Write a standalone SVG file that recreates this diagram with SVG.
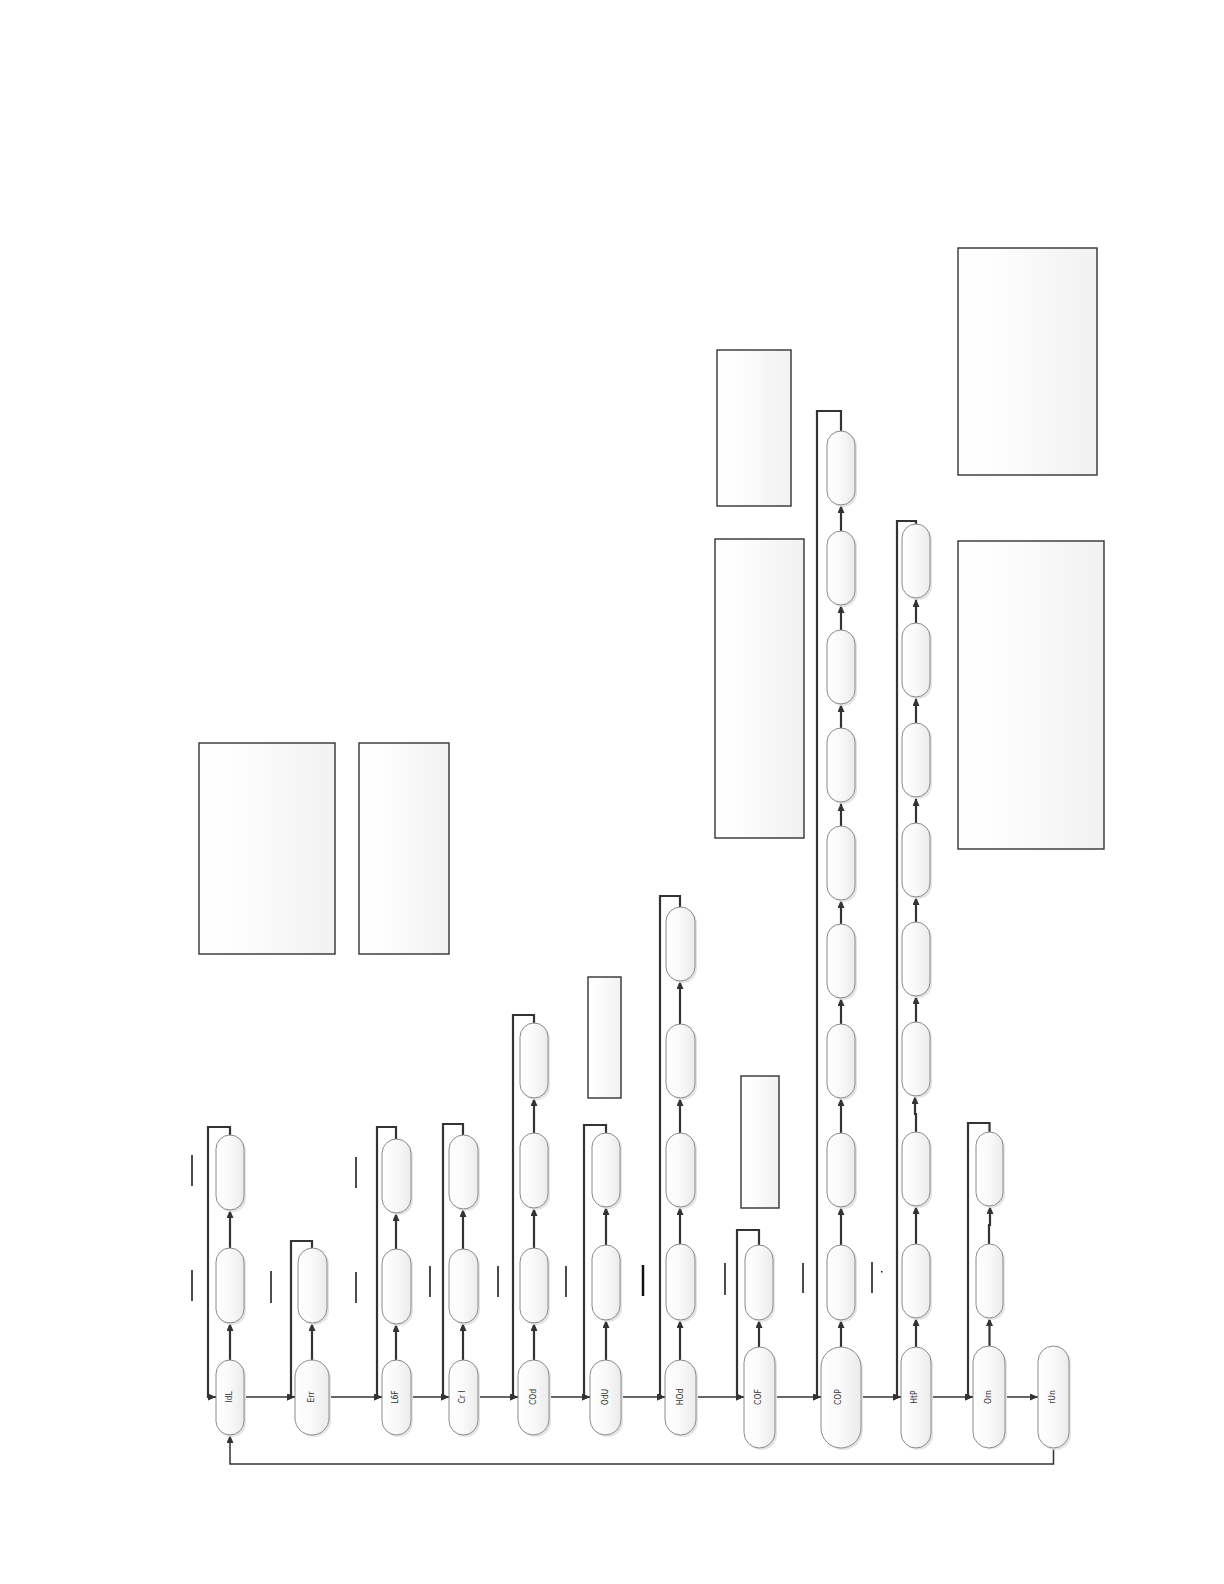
<svg xmlns="http://www.w3.org/2000/svg" width="1224" height="1584" viewBox="0 0 1224 1584">
<defs>
<linearGradient id="ng" x1="0" y1="0" x2="1" y2="0">
<stop offset="0" stop-color="#ffffff"/><stop offset="0.5" stop-color="#f9f9f9"/><stop offset="1" stop-color="#ebebeb"/>
</linearGradient>
<linearGradient id="bg" x1="0" y1="0" x2="1" y2="0">
<stop offset="0" stop-color="#ffffff"/><stop offset="0.3" stop-color="#fdfdfd"/><stop offset="1" stop-color="#f1f1f1"/>
</linearGradient>
<marker id="ah" markerUnits="userSpaceOnUse" markerWidth="8" markerHeight="7" refX="8" refY="3.5" orient="auto">
<path d="M0,0 L8,3.5 L0,7 z" fill="#333"/>
</marker>
</defs>
<style>
.n{fill:url(#ng);stroke:#8a8a8a;stroke-width:1}
.sh{fill:#e4e4e4;stroke:none}
.b{fill:url(#bg);stroke:#333;stroke-width:1.4}
.v{fill:none;stroke:#333;stroke-width:2.2;marker-end:url(#ah)}
.h{fill:none;stroke:#333;stroke-width:1.3;marker-end:url(#ah)}
.r{fill:none;stroke:#333;stroke-width:1.5;marker-end:url(#ah)}
.a{stroke:#111;stroke-width:1.5}
.t{font-family:"DejaVu Sans Condensed","DejaVu Sans",sans-serif;font-size:8.5px;fill:#333;text-anchor:middle;dominant-baseline:central}
</style>
<rect width="1224" height="1584" fill="#ffffff"/>

<g id="boxes">
<rect id="box1" class="b" x="199" y="743" width="136" height="211"/>
<rect id="box2" class="b" x="359" y="743" width="90" height="211"/>
<rect id="box3" class="b" x="588" y="977" width="33" height="121"/>
<rect id="box4" class="b" x="741" y="1076" width="38" height="132"/>
<rect id="box5" class="b" x="717" y="350" width="74" height="156"/>
<rect id="box6" class="b" x="715" y="539" width="89" height="299"/>
<rect id="box7" class="b" x="958" y="248" width="139" height="227"/>
<rect id="box8" class="b" x="958" y="541" width="146" height="308"/>
</g>

<g id="marks">
<line class="a" x1="192" y1="1155" x2="192" y2="1186"/>
<line class="a" x1="192" y1="1270" x2="192" y2="1301"/>
<line class="a" x1="271" y1="1271" x2="271" y2="1303"/>
<line class="a" x1="356" y1="1157" x2="356" y2="1188"/>
<line class="a" x1="356" y1="1272" x2="356" y2="1303"/>
<line class="a" x1="430" y1="1266" x2="430" y2="1297"/>
<line class="a" x1="498" y1="1266" x2="498" y2="1297"/>
<line class="a" x1="566" y1="1266" x2="566" y2="1297"/>
<line class="a" x1="643" y1="1265" x2="643" y2="1296" style="stroke-width:2.5"/>
<line class="a" x1="725" y1="1263" x2="725" y2="1295"/>
<line class="a" x1="803" y1="1263" x2="803" y2="1293"/>
<line class="a" x1="872" y1="1262" x2="872" y2="1293"/>
<rect x="881" y="1271" width="1.5" height="1.5" fill="#111"/>
</g>

<g id="connectors">
<path class="h" d="M244,1397 H295"/>
<path class="h" d="M329,1397 H382"/>
<path class="h" d="M411,1397 H449"/>
<path class="h" d="M478,1397 H518"/>
<path class="h" d="M549,1397 H590"/>
<path class="h" d="M621,1397 H665"/>
<path class="h" d="M696,1397 H744"/>
<path class="h" d="M775,1397 H821"/>
<path class="h" d="M861,1397 H901"/>
<path class="h" d="M931,1397 H973"/>
<path class="h" d="M1005,1397 H1038"/>
<path class="r" d="M1053.5,1448 V1464 H230 V1435"/>
<path class="v" d="M230,1360 V1323"/>
<path class="v" d="M230,1248 V1210"/>
<path class="r" d="M230,1135 V1127 H208 V1397 H216" style="stroke-width:2.2"/>
<path class="v" d="M312,1360 V1323"/>
<path class="r" d="M312,1248 V1241 H291 V1397 H295" style="stroke-width:2.2"/>
<path class="v" d="M396,1360 V1324"/>
<path class="v" d="M396,1249 V1213"/>
<path class="r" d="M396,1139 V1127 H377 V1397 H382" style="stroke-width:2.2"/>
<path class="v" d="M463,1360 V1323"/>
<path class="v" d="M463,1249 V1209"/>
<path class="r" d="M463,1135 V1124 H443 V1397 H449" style="stroke-width:2.2"/>
<path class="v" d="M534,1360 V1323"/>
<path class="v" d="M534,1248 V1208"/>
<path class="v" d="M534,1133 V1098"/>
<path class="r" d="M534,1023 V1015 H513 V1397 H518" style="stroke-width:2.2"/>
<path class="v" d="M606,1360 V1320"/>
<path class="v" d="M606,1245 V1207"/>
<path class="r" d="M606,1133 V1125 H584 V1397 H590" style="stroke-width:2.2"/>
<path class="v" d="M680,1360 V1320"/>
<path class="v" d="M680,1244 V1207"/>
<path class="v" d="M680,1133 V1098"/>
<path class="v" d="M680,1024 V981"/>
<path class="r" d="M680,907 V896 H660 V1397 H665" style="stroke-width:2.2"/>
<path class="v" d="M759,1347 V1320"/>
<path class="r" d="M759,1245 V1230 H737 V1397 H744" style="stroke-width:2.2"/>
<path class="v" d="M841,1347 V1320"/>
<path class="v" d="M841,1245 V1207"/>
<path class="v" d="M841,1133 V1098"/>
<path class="v" d="M841,1024 V998"/>
<path class="v" d="M841,924 V900"/>
<path class="v" d="M841,826 V803"/>
<path class="v" d="M841,728 V704"/>
<path class="v" d="M841,630 V605"/>
<path class="v" d="M841,531 V505"/>
<path class="r" d="M841,431 V411 H817 V1397 H821" style="stroke-width:2.2"/>
<path class="v" d="M916,1347 V1318"/>
<path class="v" d="M916,1244 V1206"/>
<path class="v" d="M916,1132 V1114 H915 V1096"/>
<path class="v" d="M916,1022 V996"/>
<path class="v" d="M916,922 V897"/>
<path class="v" d="M916,823 V798"/>
<path class="v" d="M916,723 V698"/>
<path class="v" d="M916,623 V599"/>
<path class="r" d="M916,524 V521 H897 V1397 H901" style="stroke-width:2.2"/>
<path class="v" d="M989.5,1346 V1318"/>
<path class="v" d="M989,1244 V1225 H990 V1206"/>
<path class="r" d="M989.5,1132 V1123 H968 V1397 H973" style="stroke-width:2.2"/>
</g>

<g id="n-IdL"><rect class="sh" x="218" y="1362" width="28" height="75" rx="14"/><rect class="n" x="216" y="1360" width="28" height="75" rx="14"/><text class="t" transform="rotate(-90 229 1397)" x="229" y="1397">IdL</text></g>
<g id="n-IdL-2"><rect class="sh" x="218" y="1250" width="28" height="75" rx="14"/><rect class="n" x="216" y="1248" width="28" height="75" rx="14"/></g>
<g id="n-IdL-3"><rect class="sh" x="218" y="1137" width="28" height="75" rx="14"/><rect class="n" x="216" y="1135" width="28" height="75" rx="14"/></g>

<g id="n-Err"><rect class="sh" x="297" y="1362" width="34" height="75" rx="17"/><rect class="n" x="295" y="1360" width="34" height="75" rx="17"/><text class="t" transform="rotate(-90 311 1397)" x="311" y="1397">Err</text></g>
<g id="n-Err-2"><rect class="sh" x="300" y="1250" width="29" height="75" rx="14.5"/><rect class="n" x="298" y="1248" width="29" height="75" rx="14.5"/></g>

<g id="n-L6F"><rect class="sh" x="384" y="1362" width="29" height="75" rx="14.5"/><rect class="n" x="382" y="1360" width="29" height="75" rx="14.5"/><text class="t" transform="rotate(-90 395 1397)" x="395" y="1397">L6F</text></g>
<g id="n-L6F-2"><rect class="sh" x="384" y="1251" width="29" height="75" rx="14.5"/><rect class="n" x="382" y="1249" width="29" height="75" rx="14.5"/></g>
<g id="n-L6F-3"><rect class="sh" x="384" y="1141" width="29" height="74" rx="14.5"/><rect class="n" x="382" y="1139" width="29" height="74" rx="14.5"/></g>

<g id="n-CrI"><rect class="sh" x="451" y="1362" width="29" height="75" rx="14.5"/><rect class="n" x="449" y="1360" width="29" height="75" rx="14.5"/><text class="t" transform="rotate(-90 462 1397)" x="462" y="1397">Cr I</text></g>
<g id="n-CrI-2"><rect class="sh" x="451" y="1251" width="29" height="74" rx="14.5"/><rect class="n" x="449" y="1249" width="29" height="74" rx="14.5"/></g>
<g id="n-CrI-3"><rect class="sh" x="451" y="1137" width="29" height="74" rx="14.5"/><rect class="n" x="449" y="1135" width="29" height="74" rx="14.5"/></g>

<g id="n-COd"><rect class="sh" x="520" y="1362" width="31" height="75" rx="15.5"/><rect class="n" x="518" y="1360" width="31" height="75" rx="15.5"/><text class="t" transform="rotate(-90 533 1397)" x="533" y="1397">COd</text></g>
<g id="n-COd-2"><rect class="sh" x="522" y="1250" width="28" height="75" rx="14"/><rect class="n" x="520" y="1248" width="28" height="75" rx="14"/></g>
<g id="n-COd-3"><rect class="sh" x="522" y="1135" width="28" height="75" rx="14"/><rect class="n" x="520" y="1133" width="28" height="75" rx="14"/></g>
<g id="n-COd-4"><rect class="sh" x="522" y="1025" width="28" height="75" rx="14"/><rect class="n" x="520" y="1023" width="28" height="75" rx="14"/></g>

<g id="n-OdU"><rect class="sh" x="592" y="1362" width="31" height="75" rx="15.5"/><rect class="n" x="590" y="1360" width="31" height="75" rx="15.5"/><text class="t" transform="rotate(-90 605 1397)" x="605" y="1397">OdU</text></g>
<g id="n-OdU-2"><rect class="sh" x="594" y="1247" width="28" height="75" rx="14"/><rect class="n" x="592" y="1245" width="28" height="75" rx="14"/></g>
<g id="n-OdU-3"><rect class="sh" x="594" y="1135" width="28" height="74" rx="14"/><rect class="n" x="592" y="1133" width="28" height="74" rx="14"/></g>

<g id="n-HOd"><rect class="sh" x="667" y="1362" width="31" height="75" rx="15.5"/><rect class="n" x="665" y="1360" width="31" height="75" rx="15.5"/><text class="t" transform="rotate(-90 680 1397)" x="680" y="1397">HOd</text></g>
<g id="n-HOd-2"><rect class="sh" x="668" y="1246" width="29" height="76" rx="14.5"/><rect class="n" x="666" y="1244" width="29" height="76" rx="14.5"/></g>
<g id="n-HOd-3"><rect class="sh" x="668" y="1135" width="29" height="74" rx="14.5"/><rect class="n" x="666" y="1133" width="29" height="74" rx="14.5"/></g>
<g id="n-HOd-4"><rect class="sh" x="668" y="1026" width="29" height="74" rx="14.5"/><rect class="n" x="666" y="1024" width="29" height="74" rx="14.5"/></g>
<g id="n-HOd-5"><rect class="sh" x="668" y="909" width="29" height="74" rx="14.5"/><rect class="n" x="666" y="907" width="29" height="74" rx="14.5"/></g>

<g id="n-COF"><rect class="sh" x="746" y="1349" width="31" height="101" rx="15.5"/><rect class="n" x="744" y="1347" width="31" height="101" rx="15.5"/><text class="t" transform="rotate(-90 758 1397)" x="758" y="1397">COF</text></g>
<g id="n-COF-2"><rect class="sh" x="747" y="1247" width="28" height="75" rx="14"/><rect class="n" x="745" y="1245" width="28" height="75" rx="14"/></g>

<g id="n-COP"><rect class="sh" x="823" y="1349" width="40" height="101" rx="20"/><rect class="n" x="821" y="1347" width="40" height="101" rx="20"/><text class="t" transform="rotate(-90 838 1397)" x="838" y="1397">COP</text></g>
<g id="n-COP-2"><rect class="sh" x="829" y="1247" width="28" height="75" rx="14"/><rect class="n" x="827" y="1245" width="28" height="75" rx="14"/></g>
<g id="n-COP-3"><rect class="sh" x="829" y="1135" width="28" height="74" rx="14"/><rect class="n" x="827" y="1133" width="28" height="74" rx="14"/></g>
<g id="n-COP-4"><rect class="sh" x="829" y="1026" width="28" height="74" rx="14"/><rect class="n" x="827" y="1024" width="28" height="74" rx="14"/></g>
<g id="n-COP-5"><rect class="sh" x="829" y="926" width="28" height="74" rx="14"/><rect class="n" x="827" y="924" width="28" height="74" rx="14"/></g>
<g id="n-COP-6"><rect class="sh" x="829" y="828" width="28" height="74" rx="14"/><rect class="n" x="827" y="826" width="28" height="74" rx="14"/></g>
<g id="n-COP-7"><rect class="sh" x="829" y="730" width="28" height="74" rx="14"/><rect class="n" x="827" y="728" width="28" height="74" rx="14"/></g>
<g id="n-COP-8"><rect class="sh" x="829" y="632" width="28" height="74" rx="14"/><rect class="n" x="827" y="630" width="28" height="74" rx="14"/></g>
<g id="n-COP-9"><rect class="sh" x="829" y="533" width="28" height="74" rx="14"/><rect class="n" x="827" y="531" width="28" height="74" rx="14"/></g>
<g id="n-COP-10"><rect class="sh" x="829" y="433" width="28" height="74" rx="14"/><rect class="n" x="827" y="431" width="28" height="74" rx="14"/></g>

<g id="n-HtP"><rect class="sh" x="903" y="1349" width="30" height="101" rx="15"/><rect class="n" x="901" y="1347" width="30" height="101" rx="15"/><text class="t" transform="rotate(-90 914 1397)" x="914" y="1397">HtP</text></g>
<g id="n-HtP-2"><rect class="sh" x="904" y="1246" width="28" height="74" rx="14"/><rect class="n" x="902" y="1244" width="28" height="74" rx="14"/></g>
<g id="n-HtP-3"><rect class="sh" x="904" y="1134" width="28" height="74" rx="14"/><rect class="n" x="902" y="1132" width="28" height="74" rx="14"/></g>
<g id="n-HtP-4"><rect class="sh" x="904" y="1024" width="28" height="74" rx="14"/><rect class="n" x="902" y="1022" width="28" height="74" rx="14"/></g>
<g id="n-HtP-5"><rect class="sh" x="904" y="924" width="28" height="74" rx="14"/><rect class="n" x="902" y="922" width="28" height="74" rx="14"/></g>
<g id="n-HtP-6"><rect class="sh" x="904" y="825" width="28" height="74" rx="14"/><rect class="n" x="902" y="823" width="28" height="74" rx="14"/></g>
<g id="n-HtP-7"><rect class="sh" x="904" y="725" width="28" height="74" rx="14"/><rect class="n" x="902" y="723" width="28" height="74" rx="14"/></g>
<g id="n-HtP-8"><rect class="sh" x="904" y="625" width="28" height="74" rx="14"/><rect class="n" x="902" y="623" width="28" height="74" rx="14"/></g>
<g id="n-HtP-9"><rect class="sh" x="904" y="526" width="28" height="74" rx="14"/><rect class="n" x="902" y="524" width="28" height="74" rx="14"/></g>

<g id="n-Orn"><rect class="sh" x="975" y="1348" width="32" height="101" rx="16"/><rect class="n" x="973" y="1346" width="32" height="102" rx="16"/><text class="t" transform="rotate(-90 988 1397)" x="988" y="1397">Orn</text></g>
<g id="n-Orn-2"><rect class="sh" x="978" y="1246" width="27" height="74" rx="13.5"/><rect class="n" x="976" y="1244" width="27" height="74" rx="13.5"/></g>
<g id="n-Orn-3"><rect class="sh" x="978" y="1134" width="27" height="74" rx="13.5"/><rect class="n" x="976" y="1132" width="27" height="74" rx="13.5"/></g>

<g id="n-rUn"><rect class="sh" x="1040" y="1348" width="31" height="102" rx="15.5"/><rect class="n" x="1038" y="1346" width="31" height="102" rx="15.5"/><text class="t" transform="rotate(-90 1052 1397)" x="1052" y="1397">rUn</text></g>
</svg>
